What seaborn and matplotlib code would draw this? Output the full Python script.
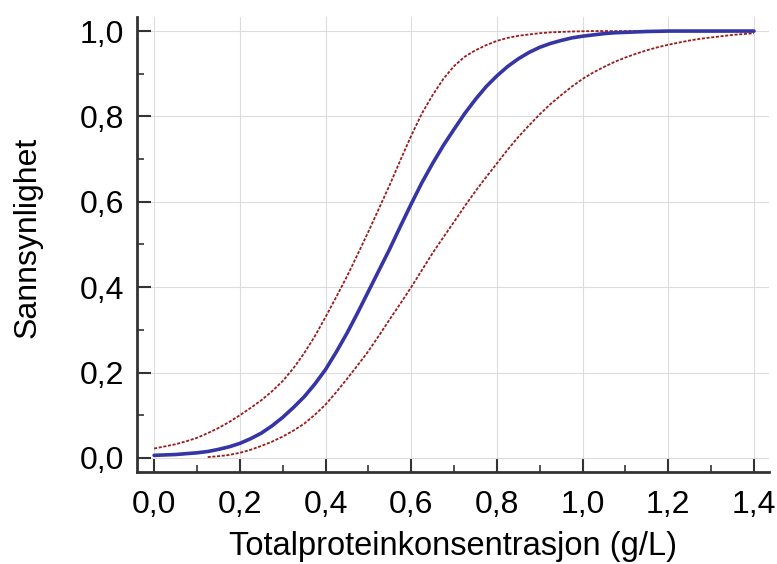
"""Logistic regression curve with 95% confidence band (probability vs total protein)."""

import matplotlib

matplotlib.use("Agg")
import matplotlib.pyplot as plt
import pandas as pd
import seaborn as sns
from matplotlib.ticker import FuncFormatter, MultipleLocator

# values
conc = [0.000, 0.025, 0.050, 0.075, 0.100, 0.125, 0.150, 0.175, 0.200, 0.225,
        0.250, 0.275, 0.300, 0.325, 0.350, 0.375, 0.400, 0.425, 0.450, 0.475,
        0.500, 0.525, 0.550, 0.575, 0.600, 0.625, 0.650, 0.675, 0.700, 0.725,
        0.750, 0.775, 0.800, 0.825, 0.850, 0.875, 0.900, 0.925, 0.950, 0.975,
        1.000, 1.025, 1.050, 1.075, 1.100, 1.125, 1.150, 1.175, 1.200, 1.225,
        1.250, 1.275, 1.300, 1.325, 1.350, 1.375, 1.400]
prob = [0.006, 0.007, 0.008, 0.010, 0.012, 0.015, 0.020, 0.026, 0.034, 0.045,
        0.058, 0.075, 0.095, 0.118, 0.143, 0.173, 0.207, 0.248, 0.292, 0.340,
        0.390, 0.440, 0.490, 0.543, 0.595, 0.645, 0.690, 0.732, 0.770, 0.807,
        0.840, 0.870, 0.895, 0.917, 0.935, 0.950, 0.962, 0.971, 0.978, 0.984,
        0.988, 0.991, 0.994, 0.996, 0.997, 0.998, 0.999, 0.9995, 1.000, 1.000,
        1.000, 1.000, 1.000, 1.000, 1.000, 1.000, 1.000]
upper = [0.022, 0.027, 0.032, 0.039, 0.047, 0.058, 0.070, 0.084, 0.100, 0.117,
         0.135, 0.156, 0.180, 0.210, 0.245, 0.285, 0.330, 0.377, 0.425, 0.477,
         0.530, 0.585, 0.640, 0.698, 0.755, 0.807, 0.850, 0.888, 0.918, 0.940,
         0.955, 0.967, 0.977, 0.984, 0.989, 0.992, 0.995, 0.997, 0.998, 0.999,
         0.9995, 1.000, 1.000, 1.000, 1.000, 1.000, 1.000, 1.000, 1.000, 1.000,
         1.000, 1.000, 1.000, 1.000, 1.000, 1.000, 1.000]
conc_lower = [0.125, 0.150, 0.175, 0.200, 0.225, 0.250, 0.275, 0.300, 0.325,
              0.350, 0.375, 0.400, 0.425, 0.450, 0.475, 0.500, 0.525, 0.550,
              0.575, 0.600, 0.625, 0.650, 0.675, 0.700, 0.725, 0.750, 0.775,
              0.800, 0.825, 0.850, 0.875, 0.900, 0.925, 0.950, 0.975, 1.000,
              1.025, 1.050, 1.075, 1.100, 1.125, 1.150, 1.175, 1.200, 1.225,
              1.250, 1.275, 1.300, 1.325, 1.350, 1.375, 1.400]
lower = [0.002, 0.004, 0.007, 0.012, 0.019, 0.028, 0.038, 0.050, 0.064,
         0.080, 0.101, 0.125, 0.154, 0.185, 0.217, 0.250, 0.287, 0.325,
         0.362, 0.400, 0.440, 0.480, 0.517, 0.553, 0.590, 0.625, 0.658,
         0.690, 0.722, 0.752, 0.779, 0.805, 0.829, 0.850, 0.870, 0.888,
         0.903, 0.916, 0.928, 0.938, 0.947, 0.955, 0.962, 0.968, 0.973,
         0.978, 0.982, 0.985, 0.988, 0.991, 0.993, 0.995]

BLUE = "#3535A5"
RED = "#9B1C1C"
DASH = (0, (1.7, 0.9))

sns.set_style("ticks")
plt.rcParams["font.family"] = ["Liberation Sans", "DejaVu Sans"]
plt.rcParams["text.color"] = "black"
plt.rcParams["axes.labelcolor"] = "black"

df_fit = pd.DataFrame({"conc": conc, "prob": prob, "upper": upper})
df_low = pd.DataFrame({"conc": conc_lower, "lower": lower})

fig = plt.figure(figsize=(7.77, 5.64), dpi=100)
ax = fig.add_axes([0.1763, 0.1631, 0.8134, 0.8068])

sns.lineplot(data=df_fit, x="conc", y="upper", color=RED, lw=1.3,
             linestyle=DASH, ax=ax)
sns.lineplot(data=df_low, x="conc", y="lower", color=RED, lw=1.3,
             linestyle=DASH, ax=ax)
sns.lineplot(data=df_fit, x="conc", y="prob", color=BLUE, lw=2.6, ax=ax)

ax.set_xlim(-0.04, 1.435)
ax.set_ylim(-0.033, 1.033)

fmt = FuncFormatter(lambda v, _: f"{v:.1f}".replace(".", ","))
ax.xaxis.set_major_locator(MultipleLocator(0.2))
ax.xaxis.set_minor_locator(MultipleLocator(0.1))
ax.yaxis.set_major_locator(MultipleLocator(0.2))
ax.yaxis.set_minor_locator(MultipleLocator(0.1))
ax.xaxis.set_major_formatter(fmt)
ax.yaxis.set_major_formatter(fmt)

ax.grid(True, which="major", color="#DCDCDC", lw=0.8)
ax.set_axisbelow(True)

for side in ("top", "right"):
    ax.spines[side].set_visible(False)
for side in ("left", "bottom"):
    ax.spines[side].set_linewidth(2.0)
    ax.spines[side].set_color("#333333")

ax.tick_params(which="major", direction="in", length=10, width=1.5,
               color="#333333", labelcolor="black", labelsize=23)
ax.tick_params(axis="y", which="major", pad=9)
ax.tick_params(axis="x", which="major", pad=13)
ax.tick_params(which="minor", direction="in", length=5, width=1.2,
               color="#333333")

ax.set_xlabel("Totalproteinkonsentrasjon (g/L)", fontsize=23.5, labelpad=8)
ax.set_ylabel("Sannsynlighet", fontsize=23, labelpad=27)
ax.yaxis.label.set_y(0.516)

fig.savefig("out.png", dpi=100)
plt.close(fig)
